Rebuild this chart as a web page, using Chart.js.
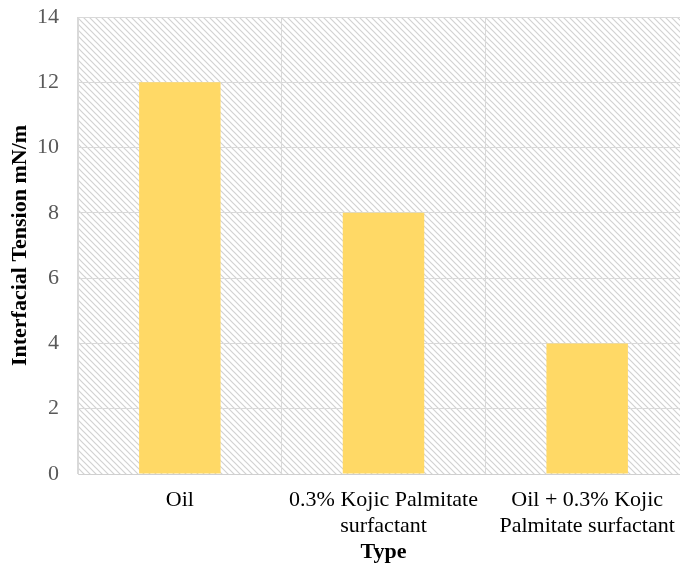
<!DOCTYPE html>
<html>
<head>
<meta charset="utf-8">
<script src="https://cdn.jsdelivr.net/npm/chart.js@4/dist/chart.umd.min.js"></script>
<style>
  html, body { margin: 0; padding: 0; background: #ffffff; overflow: hidden; }
  #wrap { width: 689px; height: 566px; position: relative; }
</style>
</head>
<body>
<div id="wrap"><canvas id="chart"></canvas></div>
<script>
// Sample types and their measured interfacial tension (mN/m)
const categories = [
  'Oil',
  ['0.3% Kojic Palmitate', 'surfactant'],
  ['Oil + 0.3% Kojic', 'Palmitate surfactant']
];
const tensionValues = [12, 8, 4];

// Value axis range
const yMin = 0;
const yMax = 14;
const yStep = 2;

const yTitle = 'Interfacial Tension mN/m';
const xTitle = 'Type';

const serif = '"Liberation Serif", "Times New Roman", Times, serif';

// Light diagonal hatch used as the plot-area fill
function makeHatch() {
  const size = 6;
  const c = document.createElement('canvas');
  c.width = size; c.height = size;
  const g = c.getContext('2d');
  g.fillStyle = '#ffffff';
  g.fillRect(0, 0, size, size);
  g.strokeStyle = '#d2d2d2';
  g.lineWidth = 1.2;
  g.beginPath();
  g.moveTo(-1, -1); g.lineTo(size + 1, size + 1);
  g.moveTo(-1, size - 1); g.lineTo(1, size + 1);
  g.moveTo(size - 1, -1); g.lineTo(size + 1, 1);
  g.stroke();
  return g.createPattern(c, 'repeat');
}

const hatchBackground = {
  id: 'hatchBackground',
  beforeDraw(chart) {
    const { ctx, chartArea: a } = chart;
    ctx.save();
    ctx.fillStyle = makeHatch();
    ctx.fillRect(a.left, a.top, a.right - a.left, a.bottom - a.top);
    ctx.restore();
  }
};

new Chart(document.getElementById('chart'), {
  type: 'bar',
  data: {
    labels: categories,
    datasets: [{
      data: tensionValues,
      backgroundColor: '#FFD966',
      borderWidth: 0,
      barPercentage: 0.4,
      categoryPercentage: 1.0
    }]
  },
  options: {
    responsive: true,
    maintainAspectRatio: false,
    animation: false,
    layout: { padding: { left: 0, top: 17, right: 0, bottom: 0 } },
    plugins: {
      legend: { display: false },
      tooltip: { enabled: false }
    },
    scales: {
      x: {
        offset: true,
        grid: { display: true, offset: true, color: '#d9d9d9', lineWidth: 1, drawTicks: false },
        border: { display: true, color: '#d0d0d0', width: 1 },
        ticks: {
          color: '#000000',
          padding: 14,
          maxRotation: 0,
          autoSkip: false,
          font: { family: serif, size: 22, lineHeight: 1.15 }
        },
        title: {
          display: true,
          text: xTitle,
          color: '#000000',
          padding: { top: 0, bottom: 0 },
          font: { family: serif, size: 22, weight: 'bold', lineHeight: 1.2 }
        },
        afterFit(scale) {
          scale.height = 92;
          scale.paddingLeft = 0;
          scale.paddingRight = 0;
        }
      },
      y: {
        min: yMin,
        max: yMax,
        grid: { color: '#d9d9d9', lineWidth: 1, drawTicks: false },
        border: { display: true, color: '#d9d9d9', width: 1 },
        ticks: {
          stepSize: yStep,
          color: '#595959',
          padding: 19,
          font: { family: serif, size: 22 }
        },
        title: {
          display: true,
          text: yTitle,
          color: '#000000',
          padding: { top: 7, bottom: 0 },
          font: { family: serif, size: 22, weight: 'bold', lineHeight: 1.2 }
        },
        afterFit(scale) {
          scale.width = 78;
          scale.paddingTop = 0;
          scale.paddingBottom = 0;
        }
      }
    }
  },
  plugins: [hatchBackground]
});
</script>
</body>
</html>
